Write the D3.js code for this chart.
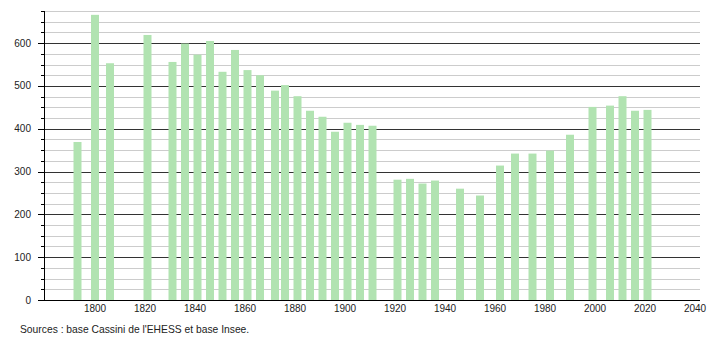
<!DOCTYPE html>
<html>
<head>
<meta charset="utf-8">
<script src="https://cdn.jsdelivr.net/npm/d3@7"></script>
<style>
  body { margin: 0; background: #fff; }
  svg text { font-family: "Liberation Sans", Arial, sans-serif; fill: #222; }
</style>
</head>
<body>
<svg id="chart" width="710" height="340"></svg>
<script>
// census years and population
const years = [1793, 1800, 1806, 1821, 1831, 1836, 1841, 1846, 1851, 1856,
  1861, 1866, 1872, 1876, 1881, 1886, 1891, 1896, 1901, 1906, 1911,
  1921, 1926, 1931, 1936, 1946, 1954, 1962, 1968, 1975, 1982, 1990,
  1999, 2006, 2011, 2016, 2021];
const population = [369, 666, 553, 619, 556, 599, 573, 605, 533, 584,
  537, 525, 489, 502, 476, 442, 428, 393, 414, 409, 407,
  281, 283, 272, 279, 260, 244, 314, 342, 342, 349, 386,
  451, 454, 476, 442, 444];
const xTicks = [1800, 1820, 1840, 1860, 1880, 1900, 1920, 1940, 1960, 1980, 2000, 2020, 2040];
const yTicks = [0, 100, 200, 300, 400, 500, 600];
const source = "Sources : base Cassini de l'EHESS et base Insee.";

const svg = d3.select('#chart');
const plotLeft = 44, plotRight = 700, plotTop = 11, plotBottom = 300;

const x = d3.scaleLinear().domain([1780, 2042]).range([45, plotRight]);
const y = d3.scaleLinear().domain([0, 675]).range([plotBottom, plotTop]);

// grid lines every 25
const grid = d3.range(25, 676, 25);
svg.append('g').selectAll('line')
  .data(grid)
  .join('line')
    .attr('x1', plotLeft).attr('x2', plotRight)
    .attr('y1', d => Math.round(y(d)) + 0.5)
    .attr('y2', d => Math.round(y(d)) + 0.5)
    .attr('stroke', d => d % 100 === 0 ? '#333' : '#ccc')
    .attr('stroke-width', 1);

// bars
svg.append('g').selectAll('rect')
  .data(years)
  .join('rect')
    .attr('x', d => x(d) - 4)
    .attr('width', 8)
    .attr('y', (d, i) => y(population[i]))
    .attr('height', (d, i) => plotBottom - y(population[i]))
    .attr('fill', '#b1e3b1');

// left axis with ticks
const yAxis = svg.append('g');
yAxis.append('line')
  .attr('x1', plotLeft + 0.5).attr('x2', plotLeft + 0.5)
  .attr('y1', y(675)).attr('y2', plotBottom)
  .attr('stroke', '#000');
yAxis.selectAll('line.tick')
  .data(grid)
  .join('line')
    .attr('class', 'tick')
    .attr('x1', d => d % 100 === 0 ? plotLeft - 6 : plotLeft - 3)
    .attr('x2', plotLeft)
    .attr('y1', d => Math.round(y(d)) + 0.5)
    .attr('y2', d => Math.round(y(d)) + 0.5)
    .attr('stroke', '#000');
yAxis.selectAll('text')
  .data(yTicks)
  .join('text')
    .attr('x', 31)
    .attr('y', d => y(d) + 3.5)
    .attr('text-anchor', 'end')
    .attr('font-size', 10)
    .text(d => d);

// bottom axis
svg.append('line')
  .attr('x1', 38).attr('x2', plotRight)
  .attr('y1', plotBottom + 0.5).attr('y2', plotBottom + 0.5)
  .attr('stroke', '#000');
svg.append('g').selectAll('text')
  .data(xTicks)
  .join('text')
    .attr('x', d => x(d))
    .attr('y', 312)
    .attr('text-anchor', 'middle')
    .attr('font-size', 10)
    .text(d => d);

svg.append('text')
  .attr('x', 20)
  .attr('y', 333)
  .attr('font-size', 10.3)
  .text(source);
</script>
</body>
</html>
